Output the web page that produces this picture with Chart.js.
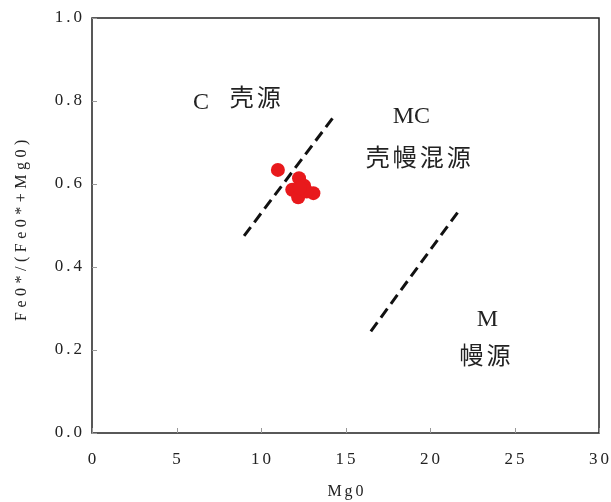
<!DOCTYPE html>
<html>
<head>
<meta charset="utf-8">
<script src="https://cdn.jsdelivr.net/npm/chart.js@4"></script>
<style>
  html, body { margin: 0; padding: 0; background: #fff; }
  #wrap { width: 611px; height: 502px; }
</style>
</head>
<body>
<div id="wrap"><canvas id="chart"></canvas></div>
<script>
'use strict'

// 样品 MgO 含量
const mgo = [11.0, 12.25, 12.55, 11.85, 12.2, 13.1, 12.7, 12.3];
// 样品 FeO*/(FeO*+MgO)
const feoRatio = [0.634, 0.614, 0.596, 0.586, 0.568, 0.578, 0.582, 0.590];

// 分界线 (C / MC, MC / M)
const boundaryCx = [9.0, 14.3];
const boundaryCy = [0.475, 0.762];
const boundaryMx = [16.5, 21.7];
const boundaryMy = [0.245, 0.535];

// 坐标轴刻度
const xTicks = [0, 5, 10, 15, 20, 25, 30];
const yTicks = [0.0, 0.2, 0.4, 0.6, 0.8, 1.0];

// 区域标注
const zoneText = ['C', '壳源', 'MC', '壳幔混源', 'M', '幔源'];
const zoneX = [6.45, 9.75, 18.9, 19.4, 23.4, 23.35];
const zoneY = [0.795, 0.81, 0.762, 0.665, 0.272, 0.188];

const SERIF = '"Liberation Serif", "DejaVu Serif", serif';

function toPoints(xs, ys){
    return xs.map((x, i) => ({ x: x, y: ys[i] }));
}

// 外框、内向刻度、刻度文字、轴标题、区域文字
const frameAndText = {
    id: 'frameAndText',
    afterDatasetsDraw(chart){
        const ctx = chart.ctx;
        const a = chart.chartArea;
        const xs = chart.scales.x;
        const ys = chart.scales.y;
        ctx.save();
        ctx.strokeStyle = '#222';
        ctx.lineWidth = 1.5;
        ctx.strokeRect(a.left, a.top, a.right - a.left, a.bottom - a.top);

        ctx.lineWidth = 1;
        ctx.strokeStyle = '#999';
        ctx.beginPath();
        xTicks.forEach((v) => {
            const px = Math.round(xs.getPixelForValue(v)) + 0.5;
            ctx.moveTo(px, a.bottom);
            ctx.lineTo(px, a.bottom - 5);
        });
        yTicks.forEach((v) => {
            const py = Math.round(ys.getPixelForValue(v)) + 0.5;
            ctx.moveTo(a.left, py);
            ctx.lineTo(a.left + 5, py);
        });
        ctx.stroke();

        // 刻度文字
        ctx.fillStyle = '#222';
        ctx.font = '17px ' + SERIF;
        ctx.letterSpacing = '3px';
        ctx.textBaseline = 'middle';
        ctx.textAlign = 'center';
        xTicks.forEach((v) => {
            ctx.fillText(String(v), xs.getPixelForValue(v) + 1.5, 460);
        });
        ctx.textAlign = 'right';
        yTicks.forEach((v) => {
            ctx.fillText(v.toFixed(1), a.left - 10 + 3, ys.getPixelForValue(v));
        });

        // 轴标题
        ctx.textAlign = 'center';
        ctx.font = '16px ' + SERIF;
        ctx.fillText('Mg0', (a.left + a.right) / 2 + 1.5, 492);

        ctx.save();
        ctx.translate(22, 230);
        ctx.rotate(-Math.PI / 2);
        ctx.letterSpacing = '4.5px';
        ctx.fillText('Fe0*/(Fe0*+Mg0)', 2, 0);
        ctx.restore();

        // 区域标注
        zoneText.forEach((t, i) => {
            const latin = /^[A-Z]+$/.test(t);
            ctx.font = latin ? '24px ' + SERIF : '24px "Noto Sans CJK SC", sans-serif';
            ctx.letterSpacing = latin ? '0px' : '3px';
            ctx.fillText(t, xs.getPixelForValue(zoneX[i]), ys.getPixelForValue(zoneY[i]));
        });
        ctx.restore();
    }
};

const dashStyle = {
    type: 'line',
    showLine: true,
    borderColor: '#111',
    borderWidth: 3,
    borderDash: [11, 6],
    pointRadius: 0,
    fill: false
};

new Chart(document.getElementById('chart'), {
    type: 'scatter',
    data: {
        datasets: [
            {
                label: 'samples',
                data: toPoints(mgo, feoRatio),
                backgroundColor: '#e8191c',
                borderColor: '#e8191c',
                pointRadius: 7,
                pointBorderWidth: 0
            },
            Object.assign({ label: 'C-MC', data: toPoints(boundaryCx, boundaryCy) }, dashStyle),
            Object.assign({ label: 'MC-M', data: toPoints(boundaryMx, boundaryMy) }, dashStyle)
        ]
    },
    options: {
        responsive: true,
        maintainAspectRatio: false,
        animation: false,
        layout: { padding: { top: 18, right: 12, left: 0, bottom: 0 } },
        plugins: {
            legend: { display: false },
            tooltip: { enabled: false }
        },
        scales: {
            x: {
                type: 'linear',
                min: 0,
                max: 30,
                afterFit: (s) => { s.height = 69; s.paddingLeft = 0; s.paddingRight = 0; },
                grid: { display: false, drawTicks: false },
                border: { display: false },
                ticks: { display: false }
            },
            y: {
                type: 'linear',
                min: 0,
                max: 1,
                afterFit: (s) => { s.width = 92; s.paddingTop = 0; s.paddingBottom = 0; },
                grid: { display: false, drawTicks: false },
                border: { display: false },
                ticks: { display: false }
            }
        }
    },
    plugins: [frameAndText]
});
</script>
</body>
</html>
